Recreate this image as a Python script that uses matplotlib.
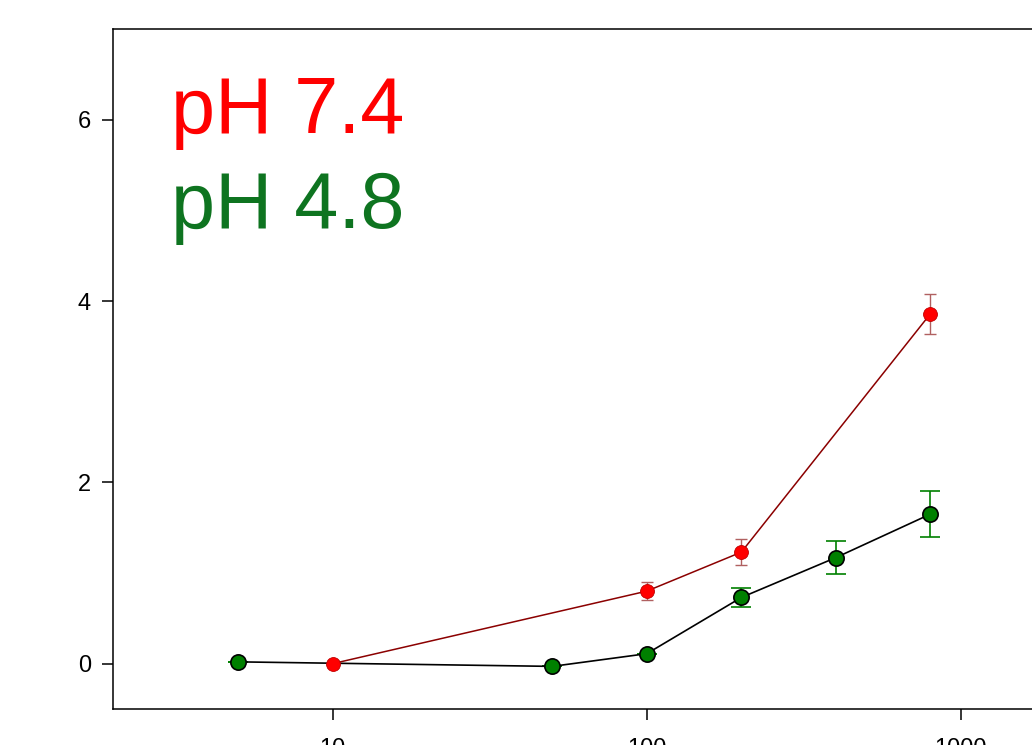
import numpy as np
import matplotlib
matplotlib.use('Agg')
import matplotlib.pyplot as plt

plt.rcParams['font.family'] = ['Liberation Sans', 'DejaVu Sans']

# pH 7.4 series
x_74 = [10, 100, 200, 800]
y_74 = [0.0, 0.80, 1.23, 3.86]
e_74 = [0.0, 0.10, 0.14, 0.22]

# pH 4.8 series
x_48 = [5, 50, 100, 200, 400, 800]
y_48 = [0.02, -0.03, 0.11, 0.73, 1.17, 1.65]
e_48 = [0.0, 0.0, 0.0, 0.10, 0.18, 0.25]

labels = ['pH 7.4', 'pH 4.8']
text_colors = ['#ff0000', '#0e7420']

fig = plt.figure(figsize=(10.32, 7.45), dpi=100)
# axes runs past the right edge of the picture (cropped figure)
ax = fig.add_axes([113/1032, 1 - 709/745, (1055.5 - 113)/1032, (709 - 29)/745])

ax.errorbar(x_48, y_48, yerr=e_48, fmt='none', ecolor='#008000', elinewidth=1.2,
            capsize=7, capthick=1.2, zorder=2)
ax.plot(x_48, y_48, '-', color='black', lw=1.2, marker='o', ms=11,
        mfc='#008000', mec='black', mew=1.2, zorder=3)

ax.errorbar(x_74, y_74, yerr=e_74, fmt='none', ecolor='#b06060', elinewidth=1.0,
            capsize=4, capthick=1.0, zorder=4)
ax.plot(x_74, y_74, '-', color='#8b0000', lw=1.1, marker='o', ms=10,
        mfc='#ff0000', mec='#c00000', mew=0.6, zorder=5)

ax.set_xscale('log')
ax.set_xlim(2, 2000)
ax.set_ylim(-0.5, 7)
ax.set_yticks([0, 2, 4, 6])
ax.set_xticks([10, 100, 1000])
ax.set_xticklabels(['10', '100', '1000'])
ax.minorticks_off()

for s in ax.spines.values():
    s.set_linewidth(1.1)
ax.spines['right'].set_visible(False)
ax.tick_params(axis='both', which='major', labelsize=17, length=8, width=1.1)
ax.tick_params(axis='y', pad=8)
ax.tick_params(axis='x', pad=13)

fig.text(171/1032, 1 - 133/745, labels[0], color=text_colors[0], fontsize=57,
         va='baseline', ha='left')
fig.text(171/1032, 1 - 228/745, labels[1], color=text_colors[1], fontsize=57,
         va='baseline', ha='left')

fig.savefig('out.png', dpi=100)
